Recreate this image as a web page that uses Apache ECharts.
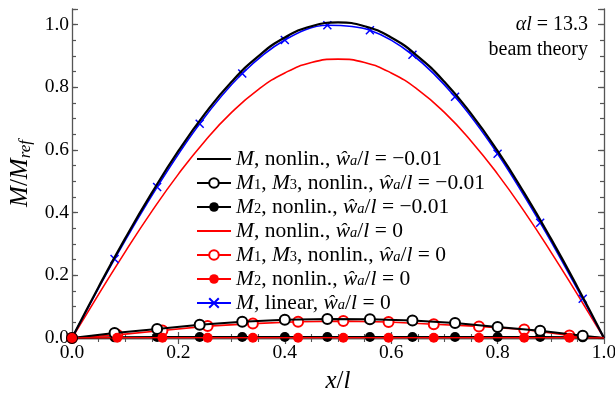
<!DOCTYPE html>
<html>
<head>
<meta charset="utf-8">
<script src="https://cdn.jsdelivr.net/npm/echarts@6/dist/echarts.min.js"></script>
<style>
  html, body { margin: 0; padding: 0; background: #fff; }
  #chart { width: 615px; height: 395px; }
</style>
</head>
<body>
<div id="chart"></div>
<script>
// Bending moment along the beam, normalised by M_ref (x/l from 0 to 1)

// smooth resultant moments, nonlinear analysis
const xFine = [0, 0.05, 0.10, 0.15, 0.20, 0.25, 0.30, 0.35, 0.40, 0.45, 0.50,
               0.55, 0.60, 0.65, 0.70, 0.75, 0.80, 0.85, 0.90, 0.95, 1.00];
const mNonlinImperf = [0, 0.163, 0.318, 0.463, 0.597, 0.716, 0.818, 0.899, 0.959, 0.995, 1.007,
                       0.995, 0.959, 0.899, 0.818, 0.716, 0.597, 0.463, 0.318, 0.163, 0];
const mNonlinPerfect = [0, 0.139, 0.275, 0.404, 0.523, 0.629, 0.720, 0.793, 0.846, 0.879, 0.890,
                        0.879, 0.846, 0.793, 0.720, 0.629, 0.523, 0.404, 0.275, 0.139, 0];

// linear analysis (marked with crosses)
const xLinear = [0, 0.08, 0.16, 0.24, 0.32, 0.40, 0.48, 0.56, 0.64, 0.72, 0.80, 0.88, 0.96, 1.00];
const mLinear = [0, 0.252, 0.482, 0.684, 0.844, 0.951, 0.998, 0.982, 0.904, 0.770, 0.588, 0.368, 0.125, 0];

// component moments, imperfect beam (w_a/l = -0.01)
const xImperf = [0, 0.08, 0.16, 0.24, 0.32, 0.40, 0.48, 0.56, 0.64, 0.72, 0.80, 0.88, 0.96, 1.00];
const m13Imperf = [0, 0.016, 0.029, 0.042, 0.052, 0.058, 0.061, 0.060, 0.056, 0.048, 0.035, 0.023, 0.007, 0];
const m2Imperf = [0, 0.002, 0.003, 0.003, 0.003, 0.003, 0.003, 0.003, 0.003, 0.003, 0.003, 0.003, 0.002, 0];

// component moments, perfect beam (w_a/l = 0)
const xPerfect = [0, 0.085, 0.170, 0.255, 0.340, 0.425, 0.510, 0.595, 0.680, 0.765, 0.850, 0.935, 1.00];
const m13Perfect = [0, 0.010, 0.024, 0.038, 0.046, 0.052, 0.054, 0.051, 0.044, 0.037, 0.027, 0.008, 0];
const m2Perfect = [0, 0.001, 0.001, 0.001, 0.001, 0.001, 0.001, 0.001, 0.001, 0.001, 0.001, 0.001, 0];

const FONT = "'Liberation Serif', 'DejaVu Serif', serif";
const AXIS_COLOR = '#555';
const NO_MARK = 'rgba(0,0,0,0)';

// rich-text styles for the math-like labels
function mathRich(size, subSize) {
  return {
    n: { fontFamily: FONT, fontSize: size, lineHeight: 19, color: '#000' },
    i: { fontFamily: FONT, fontSize: size, fontStyle: 'italic', lineHeight: 19, color: '#000' },
    s: { fontFamily: FONT, fontSize: subSize, fontStyle: 'italic', verticalAlign: 'bottom', lineHeight: 8, color: '#000' },
    u: { fontFamily: FONT, fontSize: subSize, verticalAlign: 'bottom', lineHeight: 8, color: '#000' }
  };
}

function pairs(xs, ys, hideIdx) {
  return xs.map((x, k) => {
    const item = { value: [x, ys[k]] };
    if (hideIdx && hideIdx.indexOf(k) >= 0) item.symbol = 'none';
    return item;
  });
}

const wa = '{i|ŵ}{s|a}{n|/}{i|l}';
const names = {
  mImp:  '{i|M}{n|, nonlin., }' + wa + '{n| = −0.01}',
  m13Imp:'{i|M}{u|1}{n|, }{i|M}{u|3}{n|, nonlin., }' + wa + '{n| = −0.01}',
  m2Imp: '{i|M}{u|2}{n|, nonlin., }' + wa + '{n| = −0.01}',
  mPer:  '{i|M}{n|, nonlin., }' + wa + '{n| = 0}',
  m13Per:'{i|M}{u|1}{n|, }{i|M}{u|3}{n|, nonlin., }' + wa + '{n| = 0}',
  m2Per: '{i|M}{u|2}{n|, nonlin., }' + wa + '{n| = 0}',
  mLin:  '{i|M}{n|, linear, }' + wa + '{n| = 0}'
};

function tickLabel(v) {
  const q = v / 0.2;
  return Math.abs(q - Math.round(q)) < 1e-6 ? v.toFixed(1) : '';
}

function xAxis(pos, labels) {
  return {
    type: 'value', position: pos, min: 0, max: 1, interval: 0.2,
    axisLine: { show: true, lineStyle: { color: AXIS_COLOR, width: 1.3 } },
    axisTick: { show: true, inside: true, length: 6, lineStyle: { color: AXIS_COLOR, width: 1.2 } },
    minorTick: { show: true, splitNumber: 4, length: 4, lineStyle: { color: AXIS_COLOR, width: 1.1 } },
    splitLine: { show: false }, minorSplitLine: { show: false },
    axisLabel: labels ? { show: true, margin: 5, fontFamily: FONT, fontSize: 19.5, color: '#000', formatter: tickLabel } : { show: false }
  };
}

function yAxis(pos, interval, tickLen, labels, line) {
  return {
    type: 'value', position: pos, min: 0, max: 1.05, interval: interval,
    axisLine: { show: line, lineStyle: { color: AXIS_COLOR, width: 1.3 } },
    axisTick: { show: true, inside: true, length: tickLen, lineStyle: { color: AXIS_COLOR, width: 1.2 } },
    splitLine: { show: false },
    axisLabel: labels ? { show: true, margin: 3, fontFamily: FONT, fontSize: 19.5, color: '#000', formatter: tickLabel } : { show: false }
  };
}

const xBottom = xAxis('bottom', true);
xBottom.name = '{i|x}{n|/}{i|l}';
xBottom.nameLocation = 'middle';
xBottom.nameGap = 31;
xBottom.nameTextStyle = { fontFamily: FONT, fontSize: 24, rich: {
  i: { fontFamily: FONT, fontSize: 25, fontStyle: 'italic', color: '#000' },
  n: { fontFamily: FONT, fontSize: 25, color: '#000' } } };

const yLeft = yAxis('left', 0.2, 6, true, true);
yLeft.name = '{i|M}{n|/}{i|M}{s|ref}';
yLeft.nameLocation = 'middle';
yLeft.nameGap = 24;
yLeft.nameRotate = 90;
yLeft.nameTextStyle = { fontFamily: FONT, fontSize: 24, rich: {
  i: { fontFamily: FONT, fontSize: 25, fontStyle: 'italic', lineHeight: 26, color: '#000' },
  n: { fontFamily: FONT, fontSize: 25, lineHeight: 26, color: '#000' },
  s: { fontFamily: FONT, fontSize: 17, fontStyle: 'italic', verticalAlign: 'bottom', lineHeight: 10, color: '#000' } } };

// plain-line legend entries: the marker is made fully transparent
function plainEntry(name) {
  return { name: name, itemStyle: { color: NO_MARK, borderColor: NO_MARK, borderWidth: 0 } };
}

const option = {
  animation: false,
  backgroundColor: '#fff',
  grid: { left: 72, right: 11, top: 9, bottom: 57, containLabel: false, outerBoundsMode: 'none' },
  xAxis: [xBottom, xAxis('top', false)],
  yAxis: [
    yLeft,
    yAxis('left', 0.05, 4, false, false),
    yAxis('right', 0.2, 6, false, true),
    yAxis('right', 0.05, 4, false, false)
  ],
  legend: {
    orient: 'vertical', left: 196, top: 148, padding: 0,
    itemWidth: 34, itemHeight: 12, itemGap: 2,
    textStyle: { fontFamily: FONT, fontSize: 21.5, color: '#000', rich: mathRich(21.5, 14.5) },
    data: [plainEntry(names.mImp), names.m13Imp, names.m2Imp, plainEntry(names.mPer), names.m13Per, names.m2Per, names.mLin]
  },
  graphic: [
    { type: 'text', right: 27, top: 15, style: {
      text: '{i|αl}{n| = 13.3}', rich: mathRich(20, 14), font: '20px ' + FONT, fill: '#000' } },
    { type: 'text', right: 27, top: 40, style: {
      text: '{n|beam theory}', rich: mathRich(20, 14), font: '20px ' + FONT, fill: '#000' } }
  ],
  series: [
    { name: names.mImp, type: 'line', data: pairs(xFine, mNonlinImperf), smooth: true, showSymbol: false,
      symbol: 'none', lineStyle: { color: '#000', width: 2.2 }, itemStyle: { color: '#000' }, z: 4 },
    { name: names.m13Imp, type: 'line', data: pairs(xImperf, m13Imperf, [13]), symbol: 'emptyCircle', symbolSize: 10,
      lineStyle: { color: '#000', width: 2 }, itemStyle: { color: '#000', borderColor: '#000', borderWidth: 1.5 }, z: 4 },
    { name: names.m2Imp, type: 'line', data: pairs(xImperf, m2Imperf, [13]), symbol: 'circle', symbolSize: 10,
      lineStyle: { color: '#000', width: 2 }, itemStyle: { color: '#000' }, z: 3 },
    { name: names.mPer, type: 'line', data: pairs(xFine, mNonlinPerfect), smooth: true, showSymbol: false,
      symbol: 'none', lineStyle: { color: '#f00', width: 1.6 }, itemStyle: { color: '#f00' }, z: 3 },
    { name: names.m13Per, type: 'line', data: pairs(xPerfect, m13Perfect, [12]), symbol: 'emptyCircle', symbolSize: 10,
      lineStyle: { color: '#f00', width: 1.6 }, itemStyle: { color: '#f00', borderColor: '#f00', borderWidth: 1.5 }, z: 3 },
    { name: names.m2Per, type: 'line', data: pairs(xPerfect, m2Perfect, [12]), symbol: 'circle', symbolSize: 10,
      lineStyle: { color: '#f00', width: 1.6 }, itemStyle: { color: '#f00' }, z: 4 },
    { name: names.mLin, type: 'line', data: pairs(xLinear, mLinear, [0, 13]), smooth: 0.35,
      symbol: 'path://M0,0L10,10M10,0L0,10', symbolSize: 8,
      lineStyle: { color: '#00f', width: 1.6 }, itemStyle: { color: '#00f', borderColor: '#00f', borderWidth: 1.5 }, z: 3 }
  ]
};

const chart = echarts.init(document.getElementById('chart'), null, { renderer: 'canvas' });
chart.setOption(option);
</script>
</body>
</html>
